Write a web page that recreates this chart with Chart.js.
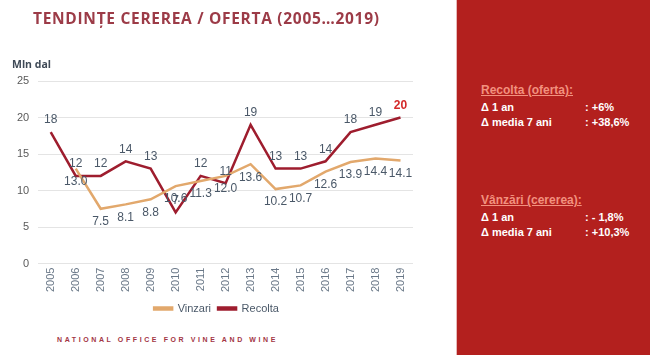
<!DOCTYPE html>
<html>
<head>
<meta charset="utf-8">
<script src="https://cdn.jsdelivr.net/npm/chart.js@4/dist/chart.umd.min.js"></script>
<style>
  html, body { margin:0; padding:0; width:650px; height:355px; overflow:hidden; background:#fff; font-family:"Liberation Sans", Arial, sans-serif; }
  #left { position:absolute; left:0; top:0; width:456px; height:355px; background:#fff; }
  #title { position:absolute; left:33px; top:7px; font-family:"Open Sans", sans-serif; font-weight:700; font-size:15.5px; letter-spacing:0.7px; color:#9c3b47; white-space:nowrap; }
  #unit { position:absolute; left:12px; top:57px; font-family:"Open Sans", sans-serif; font-weight:700; font-size:10.5px; color:#3f4a57; }
  #footer { position:absolute; left:57px; top:336px; font-family:"Liberation Sans", Arial, sans-serif; font-weight:700; font-size:7px; letter-spacing:2.6px; color:#a33545; white-space:nowrap; }
  #chartwrap { position:absolute; left:0; top:0; width:456px; height:330px; }
  #panel { position:absolute; left:456px; top:0; width:194px; height:355px; background:#b3201e; border-left:1px solid #e6b9b9; box-sizing:border-box; color:#fff; font-family:"Liberation Sans", Arial, sans-serif; font-size:11px; }
  .hd { position:absolute; left:24px; font-weight:700; font-size:12px; color:#f2917e; text-decoration:underline; white-space:nowrap; }
  .row { position:absolute; left:24px; width:170px; font-weight:700; white-space:nowrap; }
  .row span { position:absolute; left:104px; }
</style>
</head>
<body>
<div id="left">
  <div id="chartwrap"><canvas id="c" width="456" height="330"></canvas></div>
  <div id="title">TENDINȚE CEREREA / OFERTA (2005…2019)</div>
  <div id="unit">Mln dal</div>
  <div id="footer">NATIONAL OFFICE FOR VINE AND WINE</div>
</div>
<div id="panel">
  <div class="hd" style="top:83px;">Recolta (oferta):</div>
  <div class="row" style="top:101px;">Δ 1 an<span>: +6%</span></div>
  <div class="row" style="top:116px;">Δ media 7 ani<span>: +38,6%</span></div>
  <div class="hd" style="top:193px;">Vânzări (cererea):</div>
  <div class="row" style="top:211px;">Δ 1 an<span>: - 1,8%</span></div>
  <div class="row" style="top:226px;">Δ media 7 ani<span>: +10,3%</span></div>
</div>
<script>
const years = ["2005","2006","2007","2008","2009","2010","2011","2012","2013","2014","2015","2016","2017","2018","2019"];
const vinzari = [null, 13.0, 7.5, 8.1, 8.8, 10.6, 11.3, 12.0, 13.6, 10.2, 10.7, 12.6, 13.9, 14.4, 14.1];
const recolta = [18, 12, 12, 14, 13, 7, 12, 11, 19, 13, 13, 14, 18, 19, 20];
const vinzariLabels = [null, "13.0", "7.5", "8.1", "8.8", "10.6", "11.3", "12.0", "13.6", "10.2", "10.7", "12.6", "13.9", "14.4", "14.1"];
const recoltaLabels = ["18","12","12","14","13","7","12","11","19","13","13","14","18","19","20"];
const yTicks = [0, 5, 10, 15, 20, 25];

const labelPlugin = {
  id: 'valueLabels',
  afterDatasetsDraw(chart) {
    const ctx = chart.ctx;
    ctx.save();
    ctx.textAlign = 'center';
    ctx.textBaseline = 'middle';
    chart.data.datasets.forEach((ds, di) => {
      const meta = chart.getDatasetMeta(di);
      meta.data.forEach((pt, i) => {
        const txt = ds.valueLabels[i];
        if (txt == null) return;
        const last = (di === 1 && i === ds.data.length - 1);
        ctx.fillStyle = last ? '#d42a2a' : '#4a5868';
        ctx.font = (last ? 'bold ' : '') + '12px "Liberation Sans", Arial, sans-serif';
        const dy = ds.labelPos === 'below' ? 13 : -12;
        ctx.fillText(txt, pt.x, pt.y + dy);
      });
    });
    ctx.restore();
  }
};

new Chart(document.getElementById('c'), {
  type: 'line',
  data: {
    labels: years,
    datasets: [
      { label: 'Vinzari', data: vinzari, valueLabels: vinzariLabels, labelPos: 'below',
        borderColor: '#e2a86c', backgroundColor: '#e2a86c', borderWidth: 2.5, pointRadius: 0, tension: 0, spanGaps: false },
      { label: 'Recolta', data: recolta, valueLabels: recoltaLabels, labelPos: 'above',
        borderColor: '#9e1d2e', backgroundColor: '#9e1d2e', borderWidth: 2.5, pointRadius: 0, tension: 0 }
    ]
  },
  options: {
    responsive: false,
    animation: false,
    layout: { padding: { left: 8, right: 31, top: 81, bottom: 6 } },
    plugins: {
      legend: {
        position: 'bottom',
        labels: { boxWidth: 18, boxHeight: 2, color: '#4a5868', font: { size: 11, family: '"Liberation Sans", Arial, sans-serif' }, padding: 7 }
      },
      tooltip: { enabled: false },
      title: { display: false }
    },
    scales: {
      x: {
        offset: true,
        grid: { display: false, drawTicks: false, tickLength: 0 },
        border: { display: false },
        ticks: { color: '#6a7888', maxRotation: 90, minRotation: 90, font: { size: 11, family: '"Liberation Sans", Arial, sans-serif' }, padding: 4 }
      },
      y: {
        min: 0, max: 25,
        afterBuildTicks(axis) { axis.ticks = yTicks.map(v => ({ value: v })); },
        grid: { color: '#e4e4e4', drawTicks: false },
        border: { display: false },
        ticks: { color: '#5a5a5a', padding: 9, font: { size: 11, family: '"Liberation Sans", Arial, sans-serif' } }
      },
      y2: {
        position: 'right',
        min: 0, max: 25,
        grid: { display: false, drawTicks: false },
        border: { display: false },
        ticks: { display: false },
        afterFit(axis) { axis.width = 12; }
      }
    }
  },
  plugins: [labelPlugin]
});
</script>
</body>
</html>
